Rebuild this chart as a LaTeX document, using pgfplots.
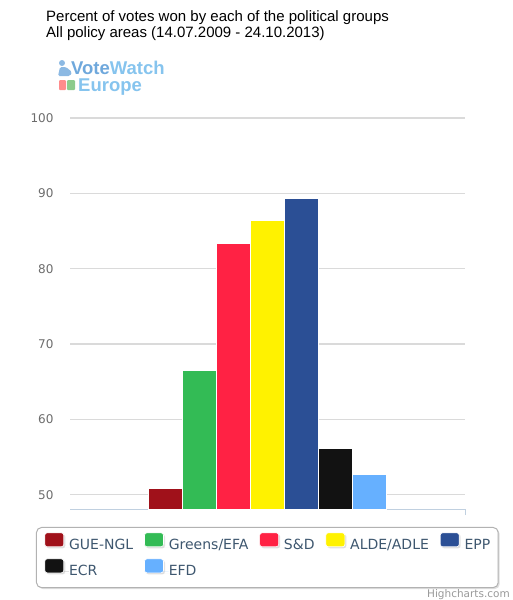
\documentclass[border=0pt]{standalone}
\usepackage{pgfplots}
\pgfplotsset{compat=1.18}
\usepackage{fontspec}
\setmainfont{Liberation Sans}
\newfontfamily\dejavu{DejaVu Sans}
\usetikzlibrary{shadows}
\definecolor{cGUE}{HTML}{A0111A}
\definecolor{cGRN}{HTML}{33BB55}
\definecolor{cSD}{HTML}{FF2244}
\definecolor{cALDE}{HTML}{FFF200}
\definecolor{cEPP}{HTML}{2B4F95}
\definecolor{cECR}{HTML}{121212}
\definecolor{cEFD}{HTML}{66B0FF}
\definecolor{gridc}{HTML}{DADADA}
\definecolor{axisc}{HTML}{C0D0E0}
\definecolor{legtext}{HTML}{3E576F}
\definecolor{logoA}{HTML}{6FA8DC}
\definecolor{logoB}{HTML}{86C4EE}
\begin{document}
\begin{tikzpicture}[x=1pt,y=1pt]
\path[use as bounding box] (0pt,0pt) rectangle (513pt,-600pt);
% title
\node[anchor=base west, align=left, inner sep=0pt, font=\fontsize{15}{15.5}\selectfont] at (46pt,-37pt)
 {Percent of votes won by each of the political groups\\All policy areas (14.07.2009 - 24.10.2013)};
% logo
\node[anchor=base west, inner sep=0pt, font=\bfseries\fontsize{18.5}{19}\selectfont] at (71pt,-74pt)
 {\textcolor{logoA}{Vote}\textcolor{logoB}{Watch}};
\node[anchor=base west, inner sep=0pt, font=\bfseries\fontsize{18.5}{19}\selectfont, text=logoB] at (78pt,-91pt) {Europe};
\fill[logoA!80] (62pt,-63pt) circle (3pt);
\fill[logoA!80, rounded corners=1.5pt] (58pt,-76pt) -- (60pt,-67pt) -- (66pt,-67pt) -- (72pt,-72pt) -- (70pt,-76pt) -- cycle;
\fill[red!45, rounded corners=1pt] (59pt,-80pt) rectangle (66pt,-90pt);
\fill[green!55!black!45, rounded corners=1pt] (67pt,-80pt) rectangle (75pt,-90pt);
\begin{axis}[
  at={(70pt,-509pt)}, anchor=south west,
  scale only axis, width=395pt, height=391pt,
  xmin=-0.5, xmax=0.5, ymin=48.1, ymax=100,
  axis x line=bottom, axis y line=left,
  x axis line style={draw=axisc, line width=1pt, -},
  y axis line style={draw=none},
  xtick={0.5}, xticklabels={},
  xtick style={draw=axisc, line width=1pt},
  tick align=outside, major tick length=6pt,
  ytick={50,60,70,80,90,100},
  ytick style={draw=none},
  ymajorgrids, grid style={draw=gridc, line width=1.1pt},
  yticklabel style={font=\dejavu\fontsize{12}{14}\selectfont, text=gray!85!black, xshift=-7pt},
  /pgf/number format/assume math mode=true,
  ybar=0pt, bar width=34pt,
  every axis plot/.append style={draw=white, line width=0.6pt},
  legend columns=5,
  legend cell align=left,
  legend image code/.code={%
    \path (0pt,0pt) -- (24pt,0pt);
    \fill[#1, rounded corners=2.5pt] (0pt,-1pt) rectangle (19pt,13pt);},
  legend style={
    at={(-0.0861,-0.046)}, anchor=north west,
    draw=gray!60, line width=1pt, rounded corners=5pt, fill=white,
    drop shadow={shadow xshift=1.5pt, shadow yshift=-1.5pt, opacity=0.25},
    inner xsep=8pt, inner ysep=5pt,
    font=\dejavu\fontsize{14}{16}\selectfont, text=legtext,
    row sep=2pt,
    nodes={inner xsep=0pt, inner ysep=4pt, text height=10.5pt, text depth=3pt},
    /tikz/every even column/.append style={column sep=11pt},
  },
]
\addplot[fill=cGUE] coordinates {(0,50.85)};
\addlegendentry{GUE-NGL}
\addplot[fill=cGRN] coordinates {(0,66.55)};
\addlegendentry{Greens/EFA}
\addplot[fill=cSD] coordinates {(0,83.4)};
\addlegendentry{S\&D}
\addplot[fill=cALDE] coordinates {(0,86.4)};
\addlegendentry{ALDE/ADLE}
\addplot[fill=cEPP] coordinates {(0,89.4)};
\addlegendentry{EPP}
\addplot[fill=cECR] coordinates {(0,56.15)};
\addlegendentry{ECR}
\addplot[fill=cEFD] coordinates {(0,52.7)};
\addlegendentry{EFD}
\end{axis}
\node[anchor=base east, inner sep=0pt, font=\dejavu\fontsize{10.5}{12}\selectfont, text=gray!80] at (510pt,-597pt) {Highcharts.com};
\end{tikzpicture}
\end{document}
